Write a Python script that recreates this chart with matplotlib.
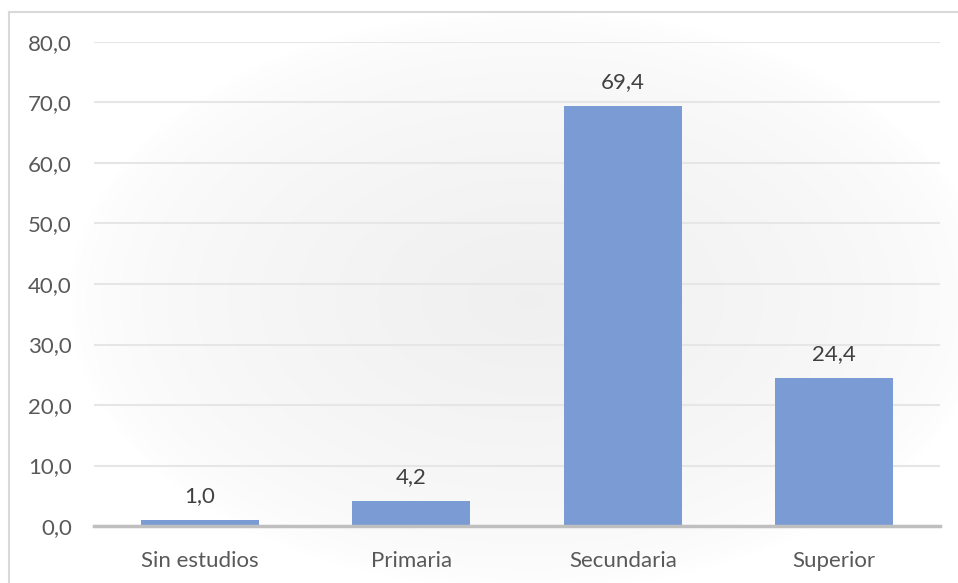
import numpy as np
import matplotlib.pyplot as plt
from matplotlib.lines import Line2D

# nivel de estudios (%)
categorias = ['Sin estudios', 'Primaria', 'Secundaria', 'Superior']
valores = [1.0, 4.2, 69.4, 24.4]
ticks_y = [0, 10, 20, 30, 40, 50, 60, 70, 80]

plt.rcParams['font.family'] = ['Lato', 'DejaVu Sans']
gris_txt = '#595959'

fig = plt.figure(figsize=(9.58, 5.83), dpi=100)

# fondo con degradado radial suave
bg = fig.add_axes([0, 0, 1, 1], zorder=0)
xx, yy = np.meshgrid(np.linspace(0, 958, 480), np.linspace(0, 583, 292))
r = np.sqrt(((xx - 530) / 460) ** 2 + ((yy - 300) / 290) ** 2)
t = np.clip(1 - r, 0, 1) ** 0.6
niv = 1 - (1 - 0.94) * t
img = np.dstack([niv, niv, niv])
bg.imshow(img, extent=[0, 958, 583, 0], aspect='auto', interpolation='bilinear')
bg.set_xlim(0, 958)
bg.set_ylim(583, 0)
bg.axis('off')
# borde del gráfico (arriba e izquierda)
bg.add_line(Line2D([9, 958], [12, 12], color='#d9d9d9', lw=1.5))
bg.add_line(Line2D([9, 9], [12, 583], color='#d9d9d9', lw=1.5))

ax = fig.add_axes([94 / 958, 1 - 526 / 583, 846 / 958, 484 / 583], zorder=1)
ax.patch.set_alpha(0)

x = np.arange(len(categorias))
barras = ax.bar(x, valores, width=0.56, color='#7a9bd3', zorder=2)

for xi, v in zip(x, valores):
    ax.annotate(f'{v:.1f}'.replace('.', ','), (xi, v), xytext=(0, 10),
                textcoords='offset points', ha='center', va='bottom',
                fontsize=16, color='#404040')

ax.set_xlim(-0.5, len(categorias) - 0.5)
ax.set_ylim(0, 80)
ax.set_yticks(ticks_y)
ax.set_yticklabels([f'{v:.1f}'.replace('.', ',') for v in ticks_y])
ax.set_xticks(x)
ax.set_xticklabels(categorias)
ax.tick_params(axis='both', length=0, labelsize=16, labelcolor=gris_txt)
ax.tick_params(axis='y', pad=16)
ax.tick_params(axis='x', pad=18)

ax.yaxis.grid(True, color='#e6e6e6', lw=1.5, zorder=0)
ax.set_axisbelow(True)
for s in ['top', 'right', 'left']:
    ax.spines[s].set_visible(False)
ax.spines['bottom'].set_color('#bfbfbf')
ax.spines['bottom'].set_linewidth(2.5)
ax.spines['bottom'].set_zorder(3)

fig.savefig('out.png', dpi=100)
